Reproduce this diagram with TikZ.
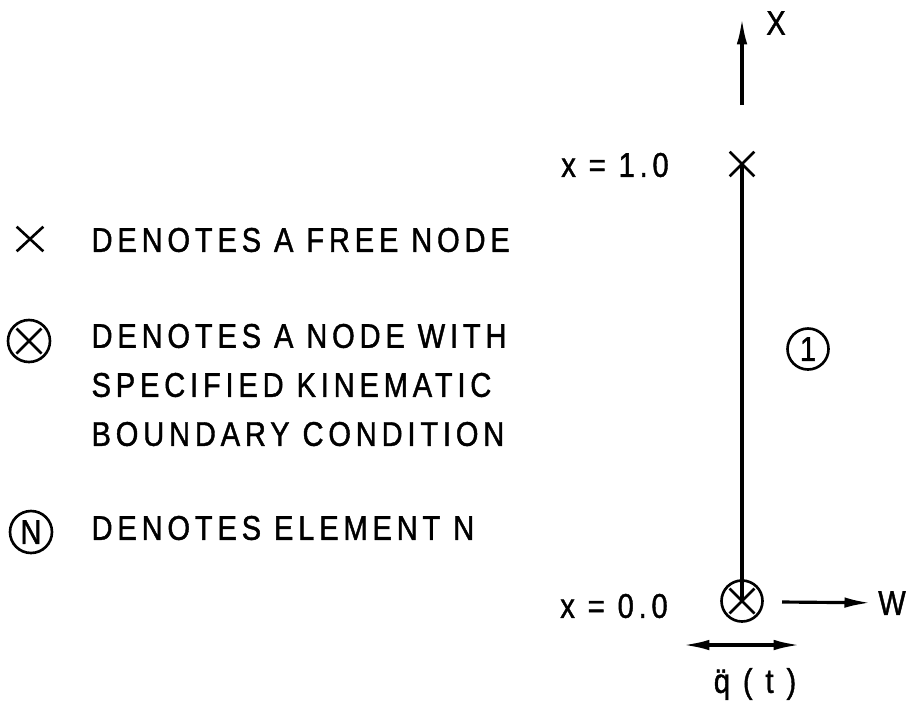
\documentclass[tikz,border=0pt]{standalone}
\usepackage{fontspec}
\newfontfamily\lettering{Liberation Sans}[LetterSpace=14, FakeStretch=0.85, FakeBold=1.2]
\usetikzlibrary{arrows.meta, shapes.misc, positioning}

\begin{document}
\begin{tikzpicture}[x=0.02cm, y=-0.02cm, >={Latex[length=15pt,width=6pt]}, line width=1.8pt,
		font=\lettering\fontsize{19.5}{27.9}\selectfont,
		freenode/.style={draw, cross out, inner sep=0pt, minimum width=0.44cm, minimum height=0.44cm, line width=1.5pt},
		fixednode/.style={draw, circle, inner sep=0pt, minimum size=0.82cm, line width=1.5pt,
			path picture={
				\draw ([shift={(-0.25cm,-0.25cm)}]path picture bounding box.center) -- ([shift={(0.25cm,0.25cm)}]path picture bounding box.center);
				\draw ([shift={(-0.25cm,0.25cm)}]path picture bounding box.center) -- ([shift={(0.25cm,-0.25cm)}]path picture bounding box.center);}},
		element/.style={draw, circle, inner sep=0pt, minimum size=0.84cm, line width=1.5pt},
		legend/.style={anchor=west, align=left, inner sep=0pt}]
				\useasboundingbox (0,0) rectangle (912,707);
				
				% legend
				\node[freenode, minimum width=0.48cm] (key_free) at (30,239) {};
				\node[legend] (txt_free) at (90,240) {DENOTES A FREE NODE};
				\node[fixednode, minimum size=0.84cm] (key_fixed) at (29,341) {};
				\node[legend] (txt_fixed) at (90,385) {DENOTES A NODE WITH\\SPECIFIED KINEMATIC\\BOUNDARY CONDITION};
				\node[element] (key_elem) at (31,532) {N};
				\node[legend] (txt_elem) at (90,528) {DENOTES ELEMENT N};
				
				% bar
				\node[freenode] (n2) at (742,164) {};
				\node[fixednode] (n1) at (742,601) {};
				\node[element, minimum size=0.82cm] (e1) at (808,349) {1};
				\node (lab_n2) at (615,165) {x = 1.0};
				\node (lab_n1) at (614,606) {x = 0.0};
				\draw (n2.center) -- (n1.center);
				
				% axes
				\coordinate (x_tail) at (742,105);
				\coordinate (x_head) at (742,18);
				\node (lab_x) at (776,23) {X};
				\draw[->] (x_tail) -- (x_head);
				\coordinate (w_tail) at (782,602);
				\node (lab_w) at (892,603) {W};
				\draw[->] (w_tail) -- (lab_w);
				
				% base excitation
				\coordinate (q_left) at (683,645);
				\coordinate (q_right) at (800,645);
				\node (lab_q) at (755,684) {\"q ( t )};
				\draw[<->] (q_left) -- (q_right);
			\end{tikzpicture}
\end{document}
